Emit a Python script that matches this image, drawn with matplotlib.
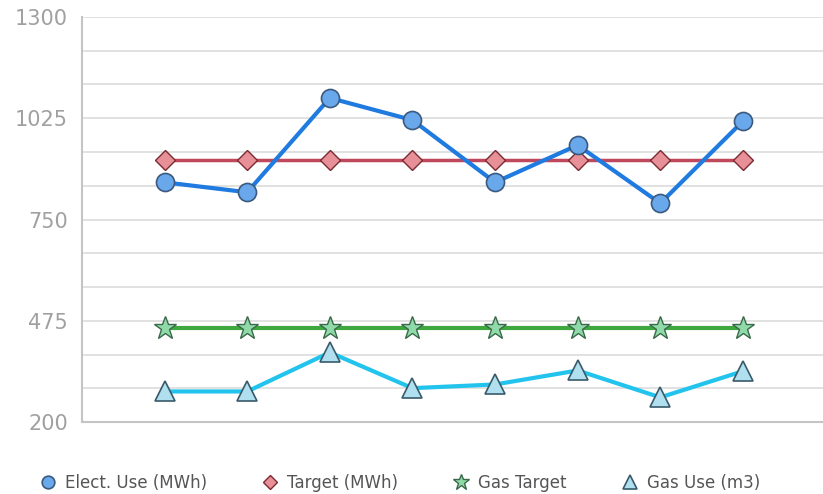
import matplotlib.pyplot as plt
import numpy as np

# datos
meses = [0, 1, 2, 3, 4, 5, 6, 7]
elect_use = [851, 824, 1080, 1020, 851, 952, 794, 1017]
target_mwh = [911, 911, 911, 911, 911, 911, 911, 911]
gas_target = [455, 455, 455, 455, 455, 455, 455, 455]
gas_use = [283, 283, 389, 292, 302, 340, 267, 338]
yticks = [200, 475, 750, 1025, 1300]

fig = plt.figure(figsize=(8.23, 4.94), dpi=100)
ax = fig.add_axes([0.0996, 0.1457, 0.9004, 0.8199])

# lineas de rejilla (cada 275/3)
for g in np.linspace(200, 1300, 13)[1:]:
    ax.axhline(g, color="#dcdcdc", lw=1.2, zorder=0)

x = np.array(meses)
ax.plot(x, elect_use, "-", color="#1f7be0", lw=3, marker="o", ms=13,
        mfc="#6aa8ec", mec="#3a5a80", mew=1.2, label="Elect. Use (MWh)", zorder=4)
ax.plot(x, target_mwh, "-", color="#c0485c", lw=2.5, marker="D", ms=10,
        mfc="#e89098", mec="#7a2a30", mew=1, label="Target (MWh)", zorder=3)
ax.plot(x, gas_target, "-", color="#3ea83e", lw=3, marker="*", ms=17,
        mfc="#8fdaa8", mec="#3a6a4a", mew=1, label="Gas Target", zorder=3)
ax.plot(x, gas_use, "-", color="#22c4ee", lw=3, marker="^", ms=14,
        mfc="#b0e0f0", mec="#3a5a6a", mew=1.2, label="Gas Use (m3)", zorder=4)

ax.set_xlim(-1, 7.97)
ax.set_ylim(200, 1300)
ax.set_yticks(yticks)
ax.set_xticks([])
ax.tick_params(axis="y", length=0, labelsize=15, labelcolor="#a0a0a0", pad=10)
for s in ["top", "right"]:
    ax.spines[s].set_visible(False)
for s in ["left", "bottom"]:
    ax.spines[s].set_color("#c4c4c4")
    ax.spines[s].set_linewidth(1.5)

leg = fig.legend(loc="center", bbox_to_anchor=(0.486, 0.022), ncol=4, frameon=False,
                 fontsize=12, handlelength=1.0, handletextpad=0.5,
                 columnspacing=3.3, markerscale=0.7)
for t in leg.get_texts():
    t.set_color("#555555")
for h in leg.legend_handles:
    h.set_linestyle("none")

fig.savefig("out.png", dpi=100)
